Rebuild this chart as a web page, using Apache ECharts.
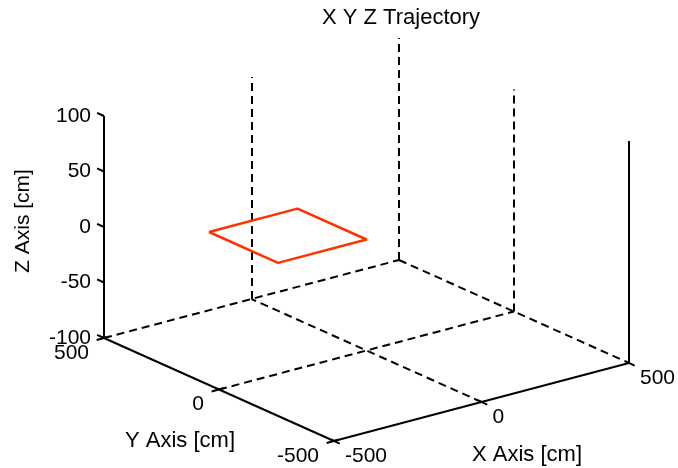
<!DOCTYPE html>
<html>
<head>
<meta charset="utf-8">
<script src="https://cdn.jsdelivr.net/npm/echarts@6/dist/echarts.min.js"></script>
<style>
  html, body { margin: 0; padding: 0; background: #fff; }
  #main { width: 678px; height: 468px; }
</style>
</head>
<body>
<div id="main"></div>
<script>
  // trajectory (cm)
  const trajX = [-300, 0, 0, -300, -300];
  const trajY = [300, 300, 0, 0, 300];
  const trajZ = [0, 0, 0, 0, 0];

  // axis ranges and ticks
  const xRange = [-500, 500];
  const yRange = [-500, 500];
  const zRange = [-100, 100];
  const xTicks = [-500, 0, 500];
  const yTicks = [-500, 0, 500];
  const zTicks = [-100, -50, 0, 50, 100];

  // simple projection of the plot box onto the page plane (MATLAB-like view)
  const box = { ox: 334, oy: 441, ux: 295, uy: -78, vx: -230, vy: -103, wy: -222 };
  function proj(x, y, z) {
    let u = (x - xRange[0]) / (xRange[1] - xRange[0]);
    let v = (y - yRange[0]) / (yRange[1] - yRange[0]);
    let w = (z - zRange[0]) / (zRange[1] - zRange[0]);
    return [box.ox + box.ux * u + box.vx * v, box.oy + box.uy * u + box.vy * v + box.wy * w];
  }
  function seg(a, b) {
    return { coords: [proj(a[0], a[1], a[2]), proj(b[0], b[1], b[2])] };
  }

  const x0 = xRange[0], x1 = xRange[1], y0 = yRange[0], y1 = yRange[1], z0 = zRange[0], z1 = zRange[1];

  // solid axis lines + tick marks
  let solid = [
    seg([x0, y1, z0], [x0, y0, z0]),
    seg([x0, y0, z0], [x1, y0, z0]),
    seg([x0, y1, z0], [x0, y1, z1]),
    seg([x1, y0, z0], [x1, y0, z1]),
  ];
  zTicks.forEach(z => solid.push(seg([x0, y1, z], [x0, y1 + 30, z])));
  yTicks.forEach(y => solid.push(seg([x0 - 25, y, z0], [x0 + 15, y, z0])));
  xTicks.forEach(x => solid.push(seg([x, y0 - 25, z0], [x, y0 + 15, z0])));

  // dashed box edges and grid
  let dashed = [
    seg([x0, y1, z0], [x1, y1, z0]),
    seg([x1, y1, z0], [x1, y0, z0]),
    seg([x1, y1, z0], [x1, y1, z1]),
  ];
  xTicks.slice(1, -1).forEach(x => {
    dashed.push(seg([x, y0, z0], [x, y1, z0]));
    dashed.push(seg([x, y1, z0], [x, y1, z1]));
  });
  yTicks.slice(1, -1).forEach(y => {
    dashed.push(seg([x0, y, z0], [x1, y, z0]));
    dashed.push(seg([x1, y, z0], [x1, y, z1]));
  });

  const trajData = trajX.map((x, i) => proj(x, trajY[i], trajZ[i]));

  const font = 'Liberation Sans, Arial, Helvetica, sans-serif';
  const tickLabel = { show: true, color: '#000', opacity: 1, fontSize: 21, fontFamily: font, formatter: p => p.value[2] };

  let option = {
    animation: false,
    grid: { left: 0, right: 0, top: 0, bottom: 0 },
    xAxis: { type: 'value', min: 0, max: 678, show: false },
    yAxis: { type: 'value', min: 0, max: 468, inverse: true, show: false },
    graphic: [
      { type: 'text', x: 401, y: 18, style: { text: 'X Y Z Trajectory', fontSize: 22, fontFamily: font, fill: '#000', align: 'center', verticalAlign: 'middle' } },
      { type: 'text', x: 527, y: 455, style: { text: 'X Axis [cm]', fontSize: 22, fontFamily: font, fill: '#000', align: 'center', verticalAlign: 'middle' } },
      { type: 'text', x: 180, y: 441, style: { text: 'Y Axis [cm]', fontSize: 22, fontFamily: font, fill: '#000', align: 'center', verticalAlign: 'middle' } },
      { type: 'text', x: 23, y: 221, rotation: Math.PI / 2, style: { text: 'Z Axis [cm]', fontSize: 21, fontFamily: font, fill: '#000', align: 'center', verticalAlign: 'middle' } },
    ],
    series: [
      {
        type: 'lines', coordinateSystem: 'cartesian2d', silent: true, polyline: false,
        lineStyle: { color: '#000', width: 2, type: [8, 5], opacity: 1 },
        data: dashed,
      },
      {
        type: 'lines', coordinateSystem: 'cartesian2d', silent: true, polyline: false,
        lineStyle: { color: '#000', width: 2, type: 'solid', opacity: 1 },
        data: solid,
      },
      {
        type: 'line', silent: true, showSymbol: false,
        lineStyle: { color: '#ff3300', width: 2.5 },
        data: trajData,
      },
      {
        type: 'scatter', silent: true, symbolSize: 0, itemStyle: { color: '#000' },
        label: Object.assign({}, tickLabel, { position: 'left', distance: 13 }),
        data: zTicks.map(z => proj(x0, y1, z).concat([z])),
      },
      {
        type: 'scatter', silent: true, symbolSize: 0, itemStyle: { color: '#000' },
        label: Object.assign({}, tickLabel, { position: 'left', distance: 0, offset: [-15, 15] }),
        data: yTicks.map(y => proj(x0, y, z0).concat([y])),
      },
      {
        type: 'scatter', silent: true, symbolSize: 0, itemStyle: { color: '#000' },
        label: Object.assign({}, tickLabel, { position: 'right', distance: 0, offset: [11, 15] }),
        data: xTicks.map(x => proj(x, y0, z0).concat([x])),
      },
    ],
  };

  let chartDom = document.getElementById('main');
  if (chartDom) {
    let myChart = echarts.init(chartDom);
    option && myChart.setOption(option);
  }
</script>
</body>
</html>
